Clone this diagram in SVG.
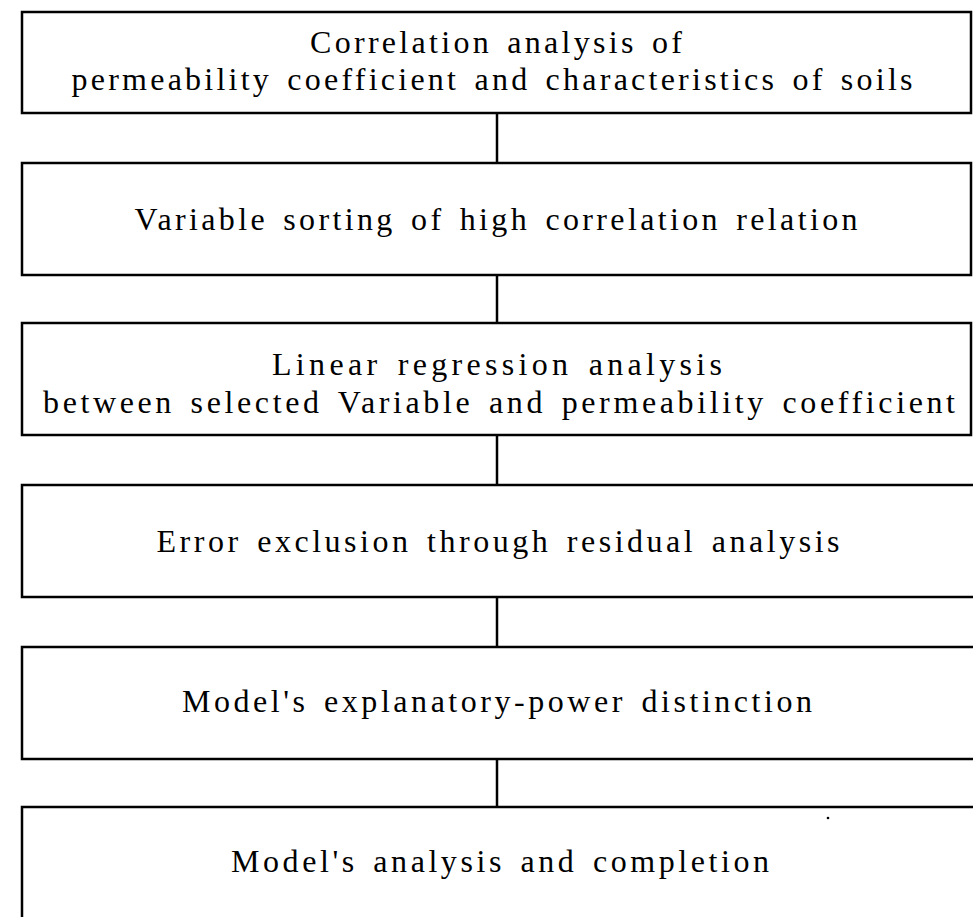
<svg xmlns="http://www.w3.org/2000/svg" width="973" height="917" viewBox="0 0 973 917">
<style>
rect.box{fill:#fff;stroke:#000;stroke-width:2.5}
text{font-family:"Liberation Serif","DejaVu Serif",serif;font-size:32px;word-spacing:4px;fill:#000;text-anchor:middle}
.conn line{stroke:#000;stroke-width:2.5}
</style>
<rect width="973" height="917" fill="#fff"/>
<g class="conn">
<line x1="497" y1="113" x2="497" y2="163"/>
<line x1="497" y1="275" x2="497" y2="323"/>
<line x1="497" y1="435" x2="497" y2="485"/>
<line x1="497" y1="597" x2="497" y2="647"/>
<line x1="497" y1="759" x2="497" y2="807"/>
</g>
<g id="n1">
<rect class="box" x="22" y="12" width="949" height="101"/>
<text x="496" y="53" textLength="372" lengthAdjust="spacing">Correlation analysis of</text>
<text x="492" y="90" textLength="841" lengthAdjust="spacing">permeability coefficient and characteristics of soils</text>
</g>
<g id="n2">
<rect class="box" x="22" y="163" width="949" height="112"/>
<text x="496" y="230" textLength="723" lengthAdjust="spacing">Variable sorting of high correlation relation</text>
</g>
<g id="n3">
<rect class="box" x="22" y="323" width="949" height="112"/>
<text x="497" y="375" textLength="450" lengthAdjust="spacing">Linear regression analysis</text>
<text x="499" y="413" textLength="912" lengthAdjust="spacing">between selected Variable and permeability coefficient</text>
</g>
<g id="n4">
<rect class="box" x="22" y="485" width="953" height="112"/>
<text x="498" y="552" textLength="683" lengthAdjust="spacing">Error exclusion through residual analysis</text>
</g>
<g id="n5">
<rect class="box" x="22" y="647" width="953" height="112"/>
<text x="497" y="712" textLength="630" lengthAdjust="spacing">Model's explanatory-power distinction</text>
</g>
<g id="n6">
<rect class="box" x="22" y="807" width="953" height="112"/>
<text x="500" y="872" textLength="538" lengthAdjust="spacing">Model's analysis and completion</text>
</g>
<circle cx="828" cy="818" r="1.3" fill="#000"/>
</svg>
